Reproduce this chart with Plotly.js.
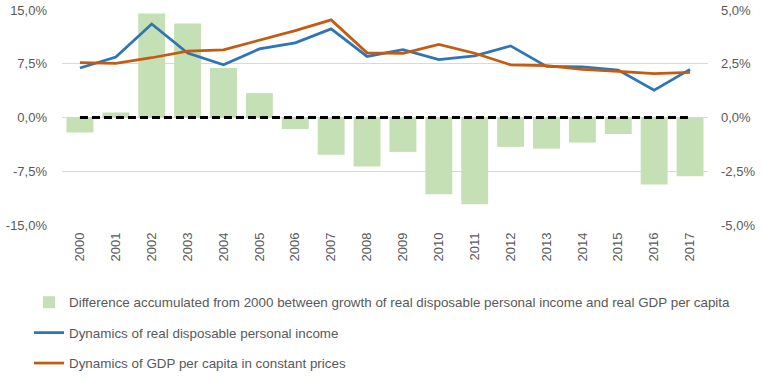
<!DOCTYPE html>
<html>
<head>
<meta charset="utf-8">
<script src="https://cdn.plot.ly/plotly-3.0.1.min.js"></script>
<style>html,body{margin:0;padding:0;background:#fff;}#chart{width:762px;height:382px;}</style>
</head>
<body>
<div id="chart"></div>
<script>
const years = ["2000","2001","2002","2003","2004","2005","2006","2007","2008","2009","2010","2011","2012","2013","2014","2015","2016","2017"];
const diffAccum = [-2.1, 0.7, 14.5, 13.1, 6.9, 3.4, -1.6, -5.2, -6.85, -4.8, -10.7, -12.1, -4.1, -4.35, -3.5, -2.3, -9.35, -8.2];
const incomeDyn = [2.30, 2.81, 4.35, 3.00, 2.45, 3.19, 3.47, 4.12, 2.84, 3.16, 2.69, 2.87, 3.33, 2.38, 2.35, 2.21, 1.27, 2.24];
const gdpDyn = [2.55, 2.52, 2.78, 3.09, 3.15, 3.58, 4.04, 4.54, 3.01, 2.98, 3.40, 2.99, 2.45, 2.41, 2.24, 2.15, 2.04, 2.10];
const zeroLine = years.map(() => 0);
const leftTicks = [-15, -7.5, 0, 7.5, 15];
const rightTicks = [-5, -2.5, 0, 2.5, 5];
const fmt = v => v.toFixed(1).replace(".", ",") + "%";

const font = "Liberation Sans, Arial, sans-serif";
const tickColor = "#595959";

const traces = [
  {type: "bar", x: years, y: diffAccum, yaxis: "y", name: "Difference accumulated from 2000 between growth of real disposable personal income and real GDP per capita",
   marker: {color: "#c5e0b4"}, legendgroup: "a", hoverinfo: "skip"},
  {type: "scatter", mode: "lines", x: years, y: zeroLine, yaxis: "y", showlegend: false,
   line: {color: "#000000", width: 3, dash: "8px,4px"}, hoverinfo: "skip"},
  {type: "scatter", mode: "lines", x: years, y: incomeDyn, yaxis: "y2", name: "Dynamics of real disposable personal income",
   line: {color: "#2e75b6", width: 2.75}, legendgroup: "b", hoverinfo: "skip"},
  {type: "scatter", mode: "lines", x: years, y: gdpDyn, yaxis: "y2", name: "Dynamics of GDP per capita in constant prices",
   line: {color: "#c55a11", width: 2.75}, legendgroup: "c", hoverinfo: "skip"}
];

const layout = {
  width: 762, height: 382,
  margin: {l: 62, r: 54, t: 9.5, b: 157, autoexpand: false},
  paper_bgcolor: "#ffffff", plot_bgcolor: "#ffffff",
  font: {family: font, size: 13, color: tickColor},
  bargap: 0.25,
  showlegend: true,
  xaxis: {type: "category", tickangle: -90, showgrid: false, zeroline: false, showline: false,
          ticks: "", tickfont: {family: font, size: 13, color: tickColor}, ticklabelstandoff: 4, automargin: false},
  yaxis: {range: [-15, 15], tickmode: "array", tickvals: leftTicks, ticktext: leftTicks.map(fmt),
          showgrid: true, gridcolor: "#d9d9d9", gridwidth: 1, zeroline: false, showline: false,
          tickfont: {family: font, size: 13, color: tickColor}, ticklabelstandoff: 14, automargin: false},
  yaxis2: {range: [-5, 5], tickmode: "array", tickvals: rightTicks, ticktext: rightTicks.map(fmt), overlaying: "y", side: "right",
           showgrid: false, zeroline: false, showline: false,
           tickfont: {family: font, size: 13, color: tickColor}, ticklabelstandoff: 12, automargin: false},
  legend: {xref: "container", yref: "container", x: 29/762, y: 1 - 287/382, xanchor: "left", yanchor: "top",
           traceorder: "grouped", tracegroupgap: 10, font: {family: font, size: 13.4, color: tickColor},
           bgcolor: "rgba(0,0,0,0)", itemwidth: 30}
};

Plotly.newPlot("chart", traces, layout, {staticPlot: true, displayModeBar: false});
</script>
</body>
</html>
